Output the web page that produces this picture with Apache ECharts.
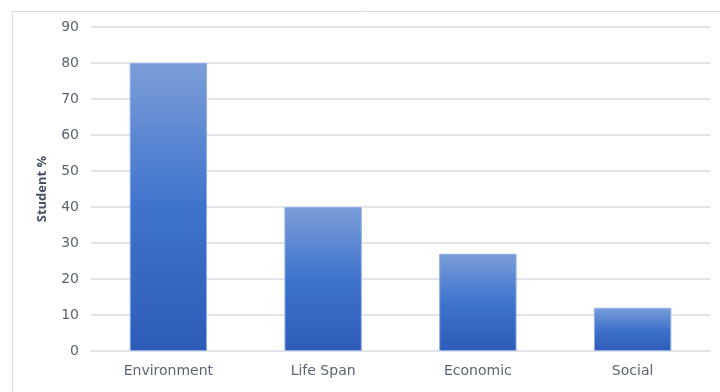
<!DOCTYPE html>
<html><head><meta charset="utf-8">
<script src="https://cdn.jsdelivr.net/npm/echarts@6/dist/echarts.min.js"></script>
<style>html,body{margin:0;padding:0;background:#fff}#c{width:720px;height:392px}</style>
</head><body><div id="c"></div>
<script>
const categories = ["Environment", "Life Span", "Economic", "Social"];
const studentPct = [80, 40, 27, 12];
const yTicks = { min: 0, max: 90, interval: 10 };

const chart = echarts.init(document.getElementById('c'), null, { renderer: 'canvas' });
const font = '"DejaVu Sans", "Noto Sans", sans-serif';
chart.setOption({
  animation: false,
  backgroundColor: '#ffffff',
  graphic: [{
    type: 'rect', left: 10, top: 9, silent: true,
    shape: { x: 0.5, y: 0.5, width: 720, height: 400 },
    style: { fill: 'none', stroke: '#dcdce0', lineWidth: 1 }
  }],
  grid: { left: 91, right: 10, top: 27, bottom: 41, containLabel: false },
  xAxis: {
    type: 'category', data: categories,
    axisLine: { show: true, lineStyle: { color: '#e3e3e8', width: 2 } },
    axisTick: { show: false },
    axisLabel: { color: '#5d6475', fontSize: 14, fontFamily: font, margin: 13 }
  },
  yAxis: {
    type: 'value', min: yTicks.min, max: yTicks.max, interval: yTicks.interval,
    name: 'Student %', nameLocation: 'middle', nameGap: 42, nameRotate: 90,
    nameTextStyle: { color: '#4a5266', fontSize: 13, fontWeight: 'bold', fontFamily: '"Open Sans", "Noto Sans", sans-serif' },
    axisLine: { show: false }, axisTick: { show: false },
    axisLabel: { color: '#5d6475', fontSize: 14, fontFamily: font, margin: 12 },
    splitLine: { lineStyle: { color: '#e3e3e8', width: 2 } }
  },
  series: [{
    type: 'bar', data: studentPct, barWidth: '50%',
    itemStyle: {
      borderColor: '#8fb0e6', borderWidth: 1,
      color: new echarts.graphic.LinearGradient(0, 0, 0, 1, [
        { offset: 0, color: '#7b9ed9' },
        { offset: 0.5, color: '#3f73cc' },
        { offset: 1, color: '#2d5cb8' }
      ])
    }
  }]
});
</script></body></html>
